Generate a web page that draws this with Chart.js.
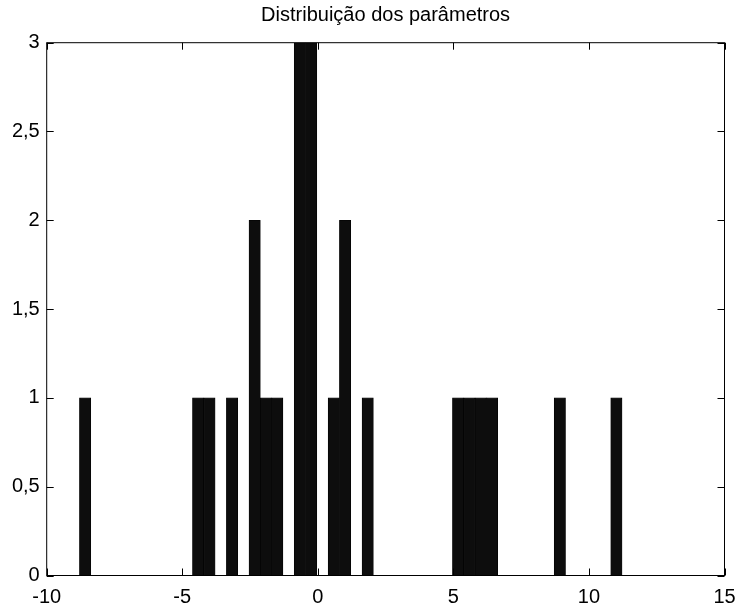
<!DOCTYPE html>
<html>
<head>
<meta charset="utf-8">
<script src="https://cdn.jsdelivr.net/npm/chart.js@4/dist/chart.umd.min.js"></script>
<style>
  html, body { margin: 0; padding: 0; background: #fff; }
  #wrap { width: 739px; height: 606px; }
</style>
</head>
<body>
<div id="wrap"><canvas id="hist"></canvas></div>
<script>
// Histogram of parameter values (only the non-empty bins, bin width ~0.417)
const binCenters = [-8.583, -4.414, -3.997, -3.163, -2.329, -1.912, -1.495, -0.662, -0.245,
                    0.589, 1.006, 1.840, 5.175, 5.592, 6.009, 6.426, 8.927, 11.012];
const binCounts  = [1, 1, 1, 1, 2, 1, 1, 3, 3, 1, 2, 1, 1, 1, 1, 1, 1, 1];
const xTicks = [-10, -5, 0, 5, 10, 15];
const yTicks = [0, 0.5, 1, 1.5, 2, 2.5, 3];

const FONT = 'Liberation Sans, Arial, sans-serif';

// box around the axes with inward ticks on all four sides
const framePlugin = {
    id: 'frame',
    afterDraw(chart) {
        const { ctx, chartArea: a, scales } = chart;
        const len = 7;
        ctx.save();
        ctx.strokeStyle = '#000';
        ctx.lineWidth = 1;
        ctx.strokeRect(a.left, a.top, a.right - a.left, a.bottom - a.top);
        ctx.beginPath();
        xTicks.forEach(v => {
            const px = Math.round(scales.x.getPixelForValue(v)) + 0.5;
            ctx.moveTo(px, a.bottom); ctx.lineTo(px, a.bottom - len);
            ctx.moveTo(px, a.top); ctx.lineTo(px, a.top + len);
        });
        yTicks.forEach(v => {
            const py = Math.round(scales.y.getPixelForValue(v)) + 0.5;
            ctx.moveTo(a.left, py); ctx.lineTo(a.left + len, py);
            ctx.moveTo(a.right, py); ctx.lineTo(a.right - len, py);
        });
        ctx.stroke();
        ctx.restore();
    }
};

new Chart(document.getElementById('hist'), {
    type: 'bar',
    data: {
        datasets: [{
            data: binCenters.map((c, i) => ({ x: c, y: binCounts[i] })),
            backgroundColor: '#0d0d0d',
            borderColor: '#000',
            borderWidth: 0.6,
            barPercentage: 1,
            categoryPercentage: 1
        }]
    },
    options: {
        responsive: true,
        maintainAspectRatio: false,
        animation: false,
        layout: { padding: { left: 0, right: 14.5, top: 0, bottom: 0 } },
        plugins: {
            legend: { display: false },
            tooltip: { enabled: false },
            title: {
                display: true,
                text: 'Distribuição dos parâmetros',
                color: '#000',
                fullSize: false,
                font: { family: FONT, size: 20, weight: 'normal' },
                padding: { top: 3, bottom: 15.7 }
            }
        },
        scales: {
            x: {
                type: 'linear',
                min: -10,
                max: 15,
                offset: false,
                afterBuildTicks: s => { s.ticks = xTicks.map(v => ({ value: v })); },
                afterFit: s => { s.height = 30.5; s.paddingLeft = 0; s.paddingRight = 0; },
                grid: { display: false, drawTicks: false },
                border: { display: false },
                ticks: { color: '#000', padding: 10, maxRotation: 0, font: { family: FONT, size: 20 } }
            },
            y: {
                min: 0,
                max: 3,
                afterBuildTicks: s => { s.ticks = yTicks.map(v => ({ value: v })); },
                afterFit: s => { s.width = 46.7; s.paddingTop = 0; s.paddingBottom = 0; },
                grid: { display: false, drawTicks: false },
                border: { display: false },
                ticks: {
                    color: '#000',
                    padding: 7,
                    font: { family: FONT, size: 20 },
                    callback: v => String(v).replace('.', ',')
                }
            }
        }
    },
    plugins: [framePlugin]
});
</script>
</body>
</html>
